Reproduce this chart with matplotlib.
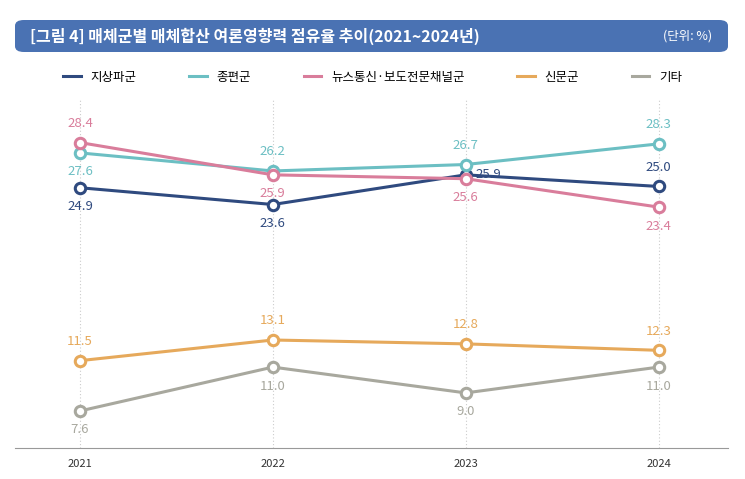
import matplotlib
matplotlib.use("Agg")
import matplotlib.pyplot as plt
from matplotlib.patches import FancyBboxPatch

plt.rcParams['font.family'] = ['Noto Sans CJK KR', 'DejaVu Sans']

years = ["2021", "2022", "2023", "2024"]
names = ["지상파군", "종편군", "뉴스통신·보도전문채널군", "신문군", "기타"]
terrestrial = [24.9, 23.6, 25.9, 25.0]
general = [27.6, 26.2, 26.7, 28.3]
news = [28.4, 25.9, 25.6, 23.4]
paper = [11.5, 13.1, 12.8, 12.3]
other = [7.6, 11.0, 9.0, 11.0]
series = [terrestrial, general, news, paper, other]
colors = ["#2f4a7f", "#6cbfc3", "#d97d9b", "#e6a95b", "#a8a89e"]
places = [["b", "b", "r", "a"], ["b", "a", "a", "a"], ["a", "b", "b", "b"],
          ["a", "a", "a", "a"], ["b", "b", "b", "b"]]

fig = plt.figure(figsize=(7.45, 4.79), dpi=100)
fig.patch.set_facecolor("white")
bar = FancyBboxPatch((15/745, 1-52/479), 713/745, 32/479, boxstyle="round,pad=0,rounding_size=0.012",
                     transform=fig.transFigure, facecolor="#4a72b3", edgecolor="none")
fig.patches.append(bar)
fig.text(30/745, 1-36/479, "[그림 4] 매체군별 매체합산 여론영향력 점유율 추이(2021~2024년)",
         color="white", fontsize=11.5, fontweight="bold", va="center")
fig.text(712/745, 1-36/479, "(단위: %)", color="white", fontsize=9, va="center", ha="right")

ax = fig.add_axes([15/745, 31/479, 713/745, 348/479])
x = list(range(len(years)))
for i, (vals, c, nm) in enumerate(zip(series, colors, names)):
    ax.plot(x, vals, color=c, lw=2.2, marker="o", ms=7.5, mfc="white", mew=2.2, label=nm, zorder=3)
    for xi, v, p in zip(x, vals, places[i]):
        if p == "a":
            ax.annotate(f"{v:.1f}", (xi, v), xytext=(0, 9), textcoords="offset points", ha="center", va="bottom", color=c, fontsize=9.5)
        elif p == "b":
            ax.annotate(f"{v:.1f}", (xi, v), xytext=(0, -9), textcoords="offset points", ha="center", va="top", color=c, fontsize=9.5)
        else:
            ax.annotate(f"{v:.1f}", (xi, v), xytext=(7, 0), textcoords="offset points", ha="left", va="center", color=c, fontsize=9.5)
for xi in x:
    ax.axvline(xi, color="#cccccc", ls=(0, (1, 2)), lw=0.8, zorder=1)
ax.set_xlim(-0.337, 3.36)
ax.set_ylim(4.73, 31.7)
ax.set_xticks(x)
ax.set_xticklabels(years, fontsize=8, color="#333333")
ax.set_yticks([])
for s in ["top", "left", "right"]:
    ax.spines[s].set_visible(False)
ax.spines["bottom"].set_color("#999999")
ax.tick_params(axis="x", length=0, pad=8)
fig.legend(loc="center", bbox_to_anchor=(0.5, 1-77/479), ncol=5, frameon=False, fontsize=9,
           handlelength=1.4, columnspacing=4.2)
leg = fig.legends[0]
for h in leg.legend_handles:
    h.set_marker("")
fig.savefig("out.png", dpi=100)
